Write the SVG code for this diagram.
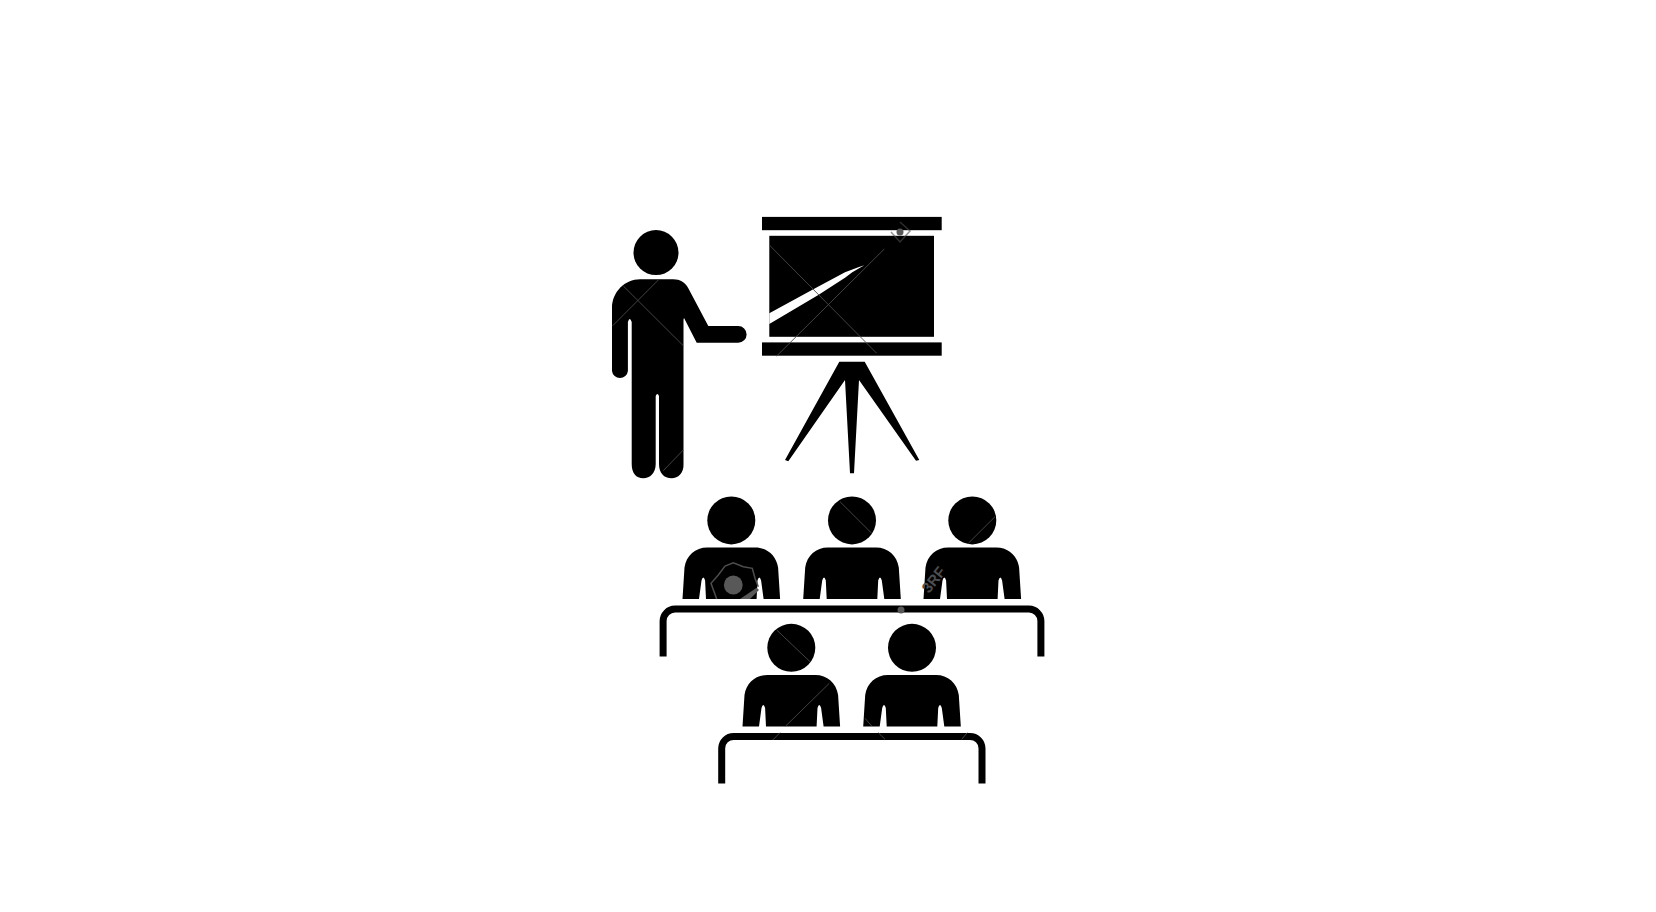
<svg xmlns="http://www.w3.org/2000/svg" width="1656" height="912" viewBox="0 0 1656 912">
<style>
.k{fill:#000}
.w{fill:#fff}
.t{fill:none;stroke:#000;stroke-width:7}
.m{fill:none;stroke:#4a4a4a;stroke-width:.9}
.l{fill:none;stroke:#4d4d4d;stroke-width:1.5}
.g{fill:#585858}
.rf{font-family:"Liberation Sans",Arial,sans-serif;font-weight:700;fill:#4d4d4d}
</style>
<defs>
<g id="student">
<circle class="k" cx="0" cy="-27.2" r="24"/>
<path class="k" d="M-24,0H24C36,0 45,8 46.8,20L48.8,51.5H32.3L29.8,33Q28,27 26.2,33L25.3,51.5H-25.3L-26.2,33Q-28,27 -29.8,33L-32.3,51.5H-48.8L-46.8,20C-45,8 -36,0 -24,0Z"/>
</g>
</defs>
<rect class="w" width="1656" height="912"/>
<g id="teacher">
<circle class="k" cx="656" cy="252.6" r="22.5"/>
<path class="k" d="M640,279.3H673.3C680,279.3 685,282 688.3,288.3L708.3,326H738.2A8.4,8.4 0 0 1 738.2,342.8H696.7L684.8,319.5Q683.7,317 683.5,320V464C684,473 678,478.3 671.7,478.3C664,478.3 659,473 659,464V396Q657.3,392 655.7,396V464C655.7,473 650,478.3 643.3,478.3C636,478.3 631.7,473 631.7,464V322Q629.7,316 627.9,322V371A8,8 0 0 1 612,371V308C612,292 625,279.3 640,279.3Z"/>
</g>
<g id="board">
<rect class="k" x="762" y="216.9" width="179.7" height="13.3"/>
<rect class="k" x="769.3" y="235.8" width="164.7" height="101"/>
<rect class="k" x="762" y="342.4" width="179.7" height="13.3"/>
<path class="w" d="M769.3,313.3L813.3,289.3L845,272.3L858.3,267.3L864.3,265.3L852.3,272.3L845,277.7L818.3,295L769.3,324Z"/>
<path class="k" d="M839.3,361.7H864.7L919.3,460L916,460.7L859,380L854,473.3H850L845,380L788.3,461.3L785,460Z"/>
</g>
<g id="row-one">
<use id="student-1" href="#student" x="731.3" y="547.6"/>
<use id="student-2" href="#student" x="852" y="547.6"/>
<use id="student-3" href="#student" x="972.3" y="547.6"/>
<path id="table-1" class="t" d="M663.1,656.5V621A12,12 0 0 1 675,609.1H1029A12,12 0 0 1 1040.9,621V656.5"/>
</g>
<g id="row-two">
<use id="student-4" href="#student" x="791.3" y="675"/>
<use id="student-5" href="#student" x="912" y="675"/>
<path id="table-2" class="t" d="M721.7,783.5V748.3A12,12 0 0 1 733.7,736.4H970A12,12 0 0 1 982,748.3V783.5"/>
</g>
<g id="watermark">
<path class="m" d="M769.3,245L876.7,353.3M884.3,249L776.7,356M623.3,286L683.3,345.7M658.3,280L612.7,325.7M683.3,450L663.3,470.7M840,501.7L871.7,533.3M995,516.7L968.3,543.3M776.7,630L810,661.7M829.3,683.3L785.7,726M780,732.7L772.7,740M878.3,732.7L885,739.3M967.3,732.7L961.7,739.3M865,718.3L871.7,726"/>
<path class="l" d="M716.7,599L711,583.3L718.3,575L725,566L733.3,562.7L743.3,566.7L752.3,568.3L755,578.3L758.3,586.7"/>
<circle class="g" cx="733.3" cy="585" r="9.4"/>
<path class="g" d="M740,599L756.7,587.7L759,590L750,599Z"/>
<path class="l" d="M900,222L910,231L900,242L891,232" stroke-opacity=".6"/>
<circle class="g" cx="900" cy="232" r="3.5"/>
<text class="rf" font-size="15" transform="translate(929,594) rotate(-52)">3RF</text>
<circle class="g" cx="901" cy="610" r="3.5"/>
</g>
</svg>
